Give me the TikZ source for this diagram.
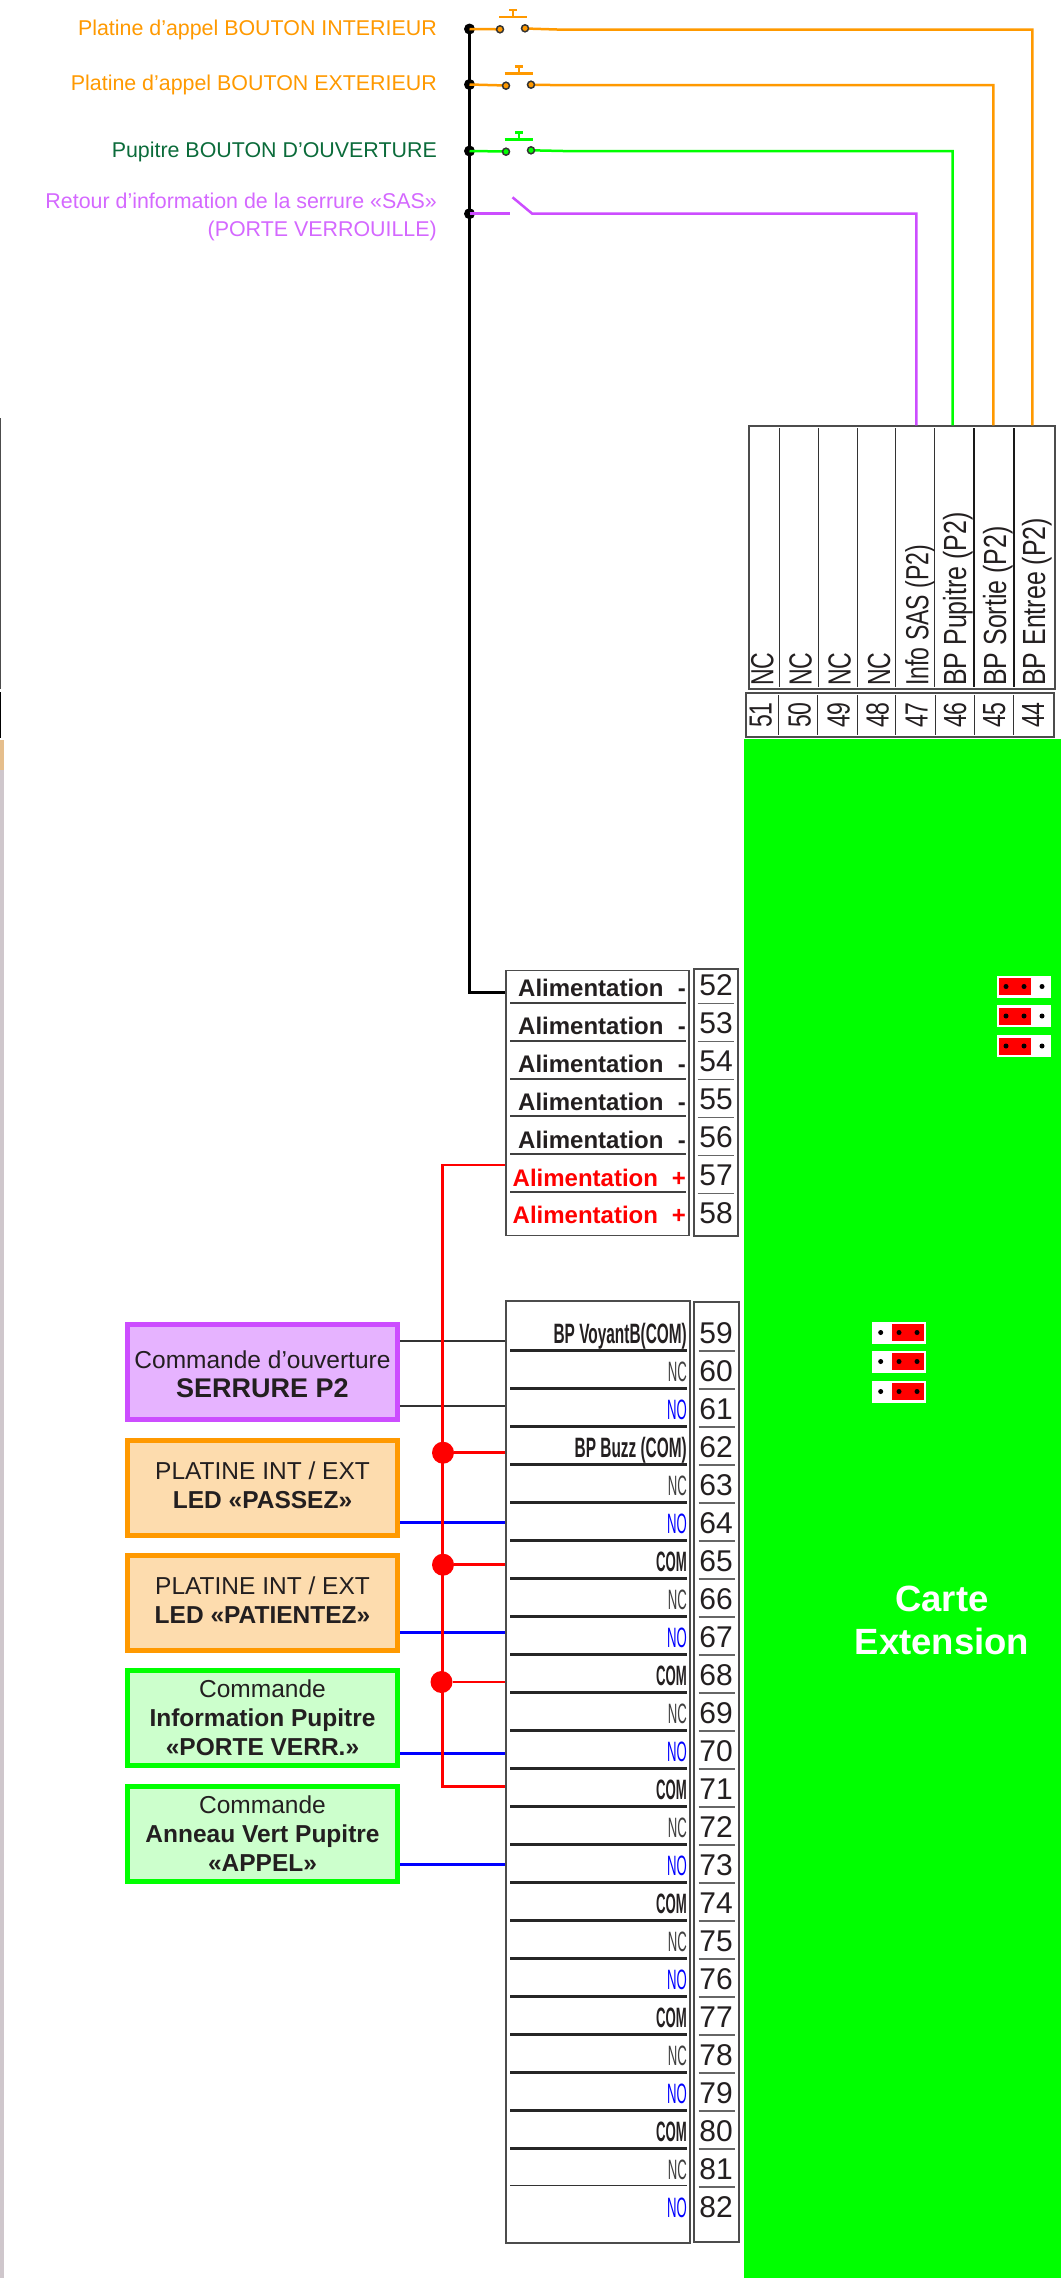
\documentclass[tikz,border=0pt]{standalone}
\usepackage{fontspec}
\setmainfont{Liberation Sans}
\newfontfamily\narrowfont[FakeStretch=0.47]{Liberation Sans}
\newfontfamily\narrowboldfont[FakeStretch=0.55]{Liberation Sans}
\newfontfamily\tallfont[FakeStretch=0.72]{Liberation Sans}
\newfontfamily\bpfont[FakeStretch=0.78]{Liberation Sans}
\usepackage{xcolor}
\definecolor{txtdark}{HTML}{231F20}
\definecolor{ptorange}{HTML}{FF9900}
\definecolor{ptorangefill}{HTML}{FDDCAE}
\definecolor{ptpurple}{HTML}{CC4DFF}
\definecolor{ptpurplefill}{HTML}{E6B3FF}
\definecolor{ptgreen}{HTML}{00FF00}
\definecolor{ptgreenfill}{HTML}{CCFFCC}
\definecolor{ptgreentxt}{HTML}{0B6B3A}
\definecolor{edgegray}{HTML}{CFC7CC}
\definecolor{edgetan}{HTML}{E5BE8C}
\newcommand{\lowgap}{\rule[-5pt]{0pt}{5pt}}
\newcommand{\highgap}{\rule{0pt}{22pt}}
\tikzset{
    cmdbox/.style={draw, line width=5, minimum width=270, minimum height=95, inner sep=0, align=center, text=txtdark, font=\fontsize{24.5}{29}\selectfont},
    tablebox/.style={draw=black!70, line width=1.5, fill=white, inner sep=0},
    toplabel/.style={anchor=east, inner sep=0, align=right, font=\fontsize{21.4}{28}\selectfont},
    wire/.style={line width=2.5},
    rowlabel/.style={anchor=east, inner sep=0},
    jumper/.style={fill=white, draw=none, minimum width=54, minimum height=22, inner sep=0},
    redpart/.style={fill=red, draw=none, minimum width=32, minimum height=17, inner sep=0},
    pin/.style={circle, fill=black, inner sep=0, minimum size=5},
    contact/.style={circle, draw=black!80, line width=1.5, inner sep=0, minimum size=7},
    junction/.style={circle, fill=red, inner sep=0, minimum size=22},
    tiedot/.style={circle, fill=black, inner sep=0, minimum size=11}
}
\begin{document}
\begin{tikzpicture}[x=1pt, y=-1pt]
    \useasboundingbox (0,0) rectangle (1061,2278);

    % bords de la capture
    \fill[edgegray] (0,745) rectangle (4,2278);
    \fill[edgetan] (0,740) rectangle (4,770);
    \draw[black!70, line width=1.5] (0.5,418) -- (0.5,689);
    \draw[black, line width=1.5] (0.5,692) -- (0.5,738);

    % carte
    \node[fill=ptgreen, minimum width=317, minimum height=1539, inner sep=0] (carte) at (902.5,1508.5) {};
    \node[text=white, align=center, font=\bfseries\fontsize{36.5}{43}\selectfont, inner sep=0] (carteTxt) at (942,1620) {Carte\\Extension};

    % cavaliers
    \foreach \y [count=\i] in {986.5,1016,1046} {
        \node[jumper] (jd\i) at (1024,\y) {};
        \node[redpart] (jdr\i) at (1015,\y) {};
        \node[pin] (jda\i) at (1006,\y) {};
        \node[pin] (jdb\i) at (1024,\y) {};
        \node[pin] (jdc\i) at (1042,\y) {};
    }
    \foreach \y [count=\i] in {1332.5,1361.5,1391.5} {
        \node[jumper] (jg\i) at (899,\y) {};
        \node[redpart] (jgr\i) at (908,\y) {};
        \node[pin] (jga\i) at (880.7,\y) {};
        \node[pin] (jgb\i) at (899,\y) {};
        \node[pin] (jgc\i) at (917,\y) {};
    }

    % borniers
    \node[tablebox, minimum width=306, minimum height=263] (tabHaut) at (902,557.5) {};
    \node[tablebox, minimum width=308, minimum height=44] (numHaut) at (900,715) {};
    \node[tablebox, minimum width=183, minimum height=265] (tabAlim) at (597.5,1103) {};
    \node[tablebox, minimum width=44, minimum height=267] (numAlim) at (716,1102.5) {};
    \node[tablebox, minimum width=184, minimum height=942] (tabRel) at (598,1772) {};
    \node[tablebox, minimum width=45, minimum height=940] (numRel) at (716.5,1772) {};

    \foreach \x in {779,818,857,895.5,934.5} \draw[black!80, line width=1] (\x,428) -- (\x,687);
    \foreach \x in {974,1013.5} \draw[black!90, line width=2] (\x,428) -- (\x,687);
    \foreach \x in {778.7,817.7,857,895.7,935,974,1013.3} \draw[black!80, line width=1] (\x,695) -- (\x,735);

    \foreach \x/\lab/\fnt [count=\i] in {773.3/NC/\tallfont,811.7/NC/\tallfont,850.7/NC/\tallfont,890/NC/\tallfont,928.3/Info SAS (P2)/\tallfont,966/BP Pupitre (P2)/\bpfont,1006/BP Sortie (P2)/\bpfont,1045/BP Entree (P2)/\bpfont}
        \node[rotate=90, anchor=base west, inner sep=0, text=txtdark, font=\fnt\fontsize{32}{32}\selectfont] (h\i) at (\x,686) {\lab};
    \foreach \x/\n in {771.5/51,810.5/50,849.5/49,888.5/48,927.5/47,966/46,1005/45,1044/44}
        \node[rotate=90, anchor=base, inner sep=0, text=txtdark, font=\tallfont\fontsize{32}{32}\selectfont] (n\n) at (\x,715) {\n};

    % alimentation
    \foreach \n [count=\i from 0] in {52,...,58} {
        \node[anchor=base, inner sep=0, text=txtdark, font=\fontsize{30}{30}\selectfont] (n\n) at (716,{995.5+38*\i}) {\n};
    }
    \foreach \i in {0,...,5} {
        \draw[black!75, line width=2] (510,{1002.7+37.9*\i}) -- (685.6,{1002.7+37.9*\i});
        \draw[black!60, line width=1.5] (697.5,{1003.7+38*\i}) -- (734,{1003.7+38*\i});
    }
    \foreach \n/\y in {52/996,53/1034,54/1072,55/1110,56/1148} {
        \node[anchor=base west, inner sep=0, text=txtdark, font=\bfseries\fontsize{24}{24}\selectfont] (a\n) at (518,\y) {Alimentation};
        \node[anchor=base east, inner sep=0, text=txtdark, font=\bfseries\fontsize{24}{24}\selectfont] (m\n) at (686,\y) {-};
    }
    \foreach \n/\y in {57/1186,58/1223} {
        \node[anchor=base west, inner sep=0, text=red, font=\bfseries\fontsize{24}{24}\selectfont] (a\n) at (512.5,\y) {Alimentation};
        \node[anchor=base east, inner sep=0, text=red, font=\bfseries\fontsize{24}{24}\selectfont] (m\n) at (686,\y) {+};
    }

    % relais
    \foreach \n/\lab/\col/\wt [count=\i from 0] in {
        59/BP VoyantB(COM)/txtdark/\narrowboldfont\bfseries, 60/NC/black!75/\narrowfont, 61/NO/blue/\narrowfont,
        62/BP Buzz (COM)/txtdark/\narrowboldfont\bfseries, 63/NC/black!75/\narrowfont, 64/NO/blue/\narrowfont,
        65/COM/txtdark/\narrowfont\bfseries, 66/NC/black!75/\narrowfont, 67/NO/blue/\narrowfont,
        68/COM/txtdark/\narrowfont\bfseries, 69/NC/black!75/\narrowfont, 70/NO/blue/\narrowfont,
        71/COM/txtdark/\narrowfont\bfseries, 72/NC/black!75/\narrowfont, 73/NO/blue/\narrowfont,
        74/COM/txtdark/\narrowfont\bfseries, 75/NC/black!75/\narrowfont, 76/NO/blue/\narrowfont,
        77/COM/txtdark/\narrowfont\bfseries, 78/NC/black!75/\narrowfont, 79/NO/blue/\narrowfont,
        80/COM/txtdark/\narrowfont\bfseries, 81/NC/black!75/\narrowfont, 82/NO/blue/\narrowfont} {
        \node[anchor=base, inner sep=0, text=txtdark, font=\fontsize{30}{30}\selectfont] (n\n) at (716,{1343.5+38*\i}) {\n};
        \node[rowlabel, anchor=base east, text=\col, font=\wt\fontsize{28}{28}\selectfont] (r\n) at (687,{1343+38*\i}) {\lab};
    }
    \foreach \i in {0,...,21} {
        \draw[black!85, line width=2.5] (510,{1350.3+38*\i}) -- (687,{1350.3+38*\i});
    }
    \draw[black!80, line width=1] (510,2185) -- (687,2185);
    \foreach \i in {0,...,22} {
        \draw[black!60, line width=1.2] (698.5,{1351+38*\i}) -- (735,{1351+38*\i});
    }

    % boutons
    \node[tiedot] (t1) at (469.5,29) {};
    \node[tiedot] (t2) at (469.5,84.5) {};
    \node[tiedot] (t3) at (469.5,151) {};
    \node[tiedot] (t4) at (469.5,213.7) {};
    \draw[line width=2.5] (t1.center) |- (tabAlim.west |- 0,992.7);

    \draw[ptorange, wire] (t1.center) -- (500,29.3);
    \draw[ptorange, wire] (525,28.5) -- (557,29.5) -- (1032.3,29.5) -- (tabHaut.north -| 1032.3,0);
    \draw[ptorange, wire] (t2.center) -- (506,85.5);
    \draw[ptorange, wire] (531,84.7) -- (563,85.2) -- (993.3,85.2) -- (tabHaut.north -| 993.3,0);
    \draw[ptgreen, wire] (t3.center) -- (506,151.5);
    \draw[ptgreen, wire] (531,150.3) -- (563,151) -- (952.7,151) -- (tabHaut.north -| 952.7,0);
    \draw[ptpurple, wire] (t4.center) -- (510,213.7);
    \draw[ptpurple, wire] (512.5,197.3) -- (532,213.5) -- (916.3,213.5) -- (tabHaut.north -| 916.3,0);

    \foreach \nm/\x/\y/\col in {ba/500/29.3/ptorange, bb/525/28.3/ptorange, bc/506/85.7/ptorange, bd/531/84.7/ptorange, be/506/151.7/ptgreen, bf/531/150.3/ptgreen}
        \node[contact, fill=\col] (\nm) at (\x,\y) {};
    \foreach \xa/\xb/\xc/\ya/\yb/\col in {499/527/513/17/10/ptorange, 504.5/533/519/73.3/66.7/ptorange, 504.5/533/519/139.3/132.3/ptgreen} {
        \draw[\col, line width=2.5] (\xa,\ya) -- (\xb,\ya);
        \draw[\col, line width=2.5] (\xc,\ya) -- (\xc,\yb);
        \draw[\col, line width=2.5] (\xc-4,\yb) -- (\xc+4,\yb);
    }

    \node[toplabel, text=ptorange] (lbInt) at (437,30) {Platine d’appel BOUTON INTERIEUR};
    \node[toplabel, text=ptorange] (lbExt) at (437,85) {Platine d’appel BOUTON EXTERIEUR};
    \node[toplabel, text=ptgreentxt] (lbOuv) at (437,152) {Pupitre BOUTON D’OUVERTURE};
    \node[toplabel, text=ptpurple!85!white] (lbSas) at (437,216.5) {Retour d’information de la serrure «SAS»\\(PORTE VERROUILLE)};

    % commandes
    \node[cmdbox, draw=ptpurple, fill=ptpurplefill] (serrure) at (262.5,1372) {\highgap Commande d’ouverture\\\textbf{\fontsize{27}{29}\selectfont SERRURE P2}};
    \node[cmdbox, draw=ptorange, fill=ptorangefill] (passez) at (262.5,1487.5) {PLATINE INT / EXT\\\textbf{LED «PASSEZ»}\lowgap};
    \node[cmdbox, draw=ptorange, fill=ptorangefill] (patientez) at (262.5,1602.5) {PLATINE INT / EXT\\\textbf{LED «PATIENTEZ»}\lowgap};
    \node[cmdbox, draw=ptgreen, fill=ptgreenfill] (verr) at (262.5,1717.5) {Commande\\\textbf{Information Pupitre}\\\textbf{«PORTE VERR.»}};
    \node[cmdbox, draw=ptgreen, fill=ptgreenfill] (appel) at (262.5,1833.5) {Commande\\\textbf{Anneau Vert Pupitre}\\\textbf{«APPEL»}};

    % fils
    \draw[black!80, wire] (serrure.east |- 0,1341) -- (tabRel.west |- 0,1341);
    \draw[black!80, wire] (serrure.east |- 0,1406) -- (tabRel.west |- 0,1406);
    \draw[blue, wire] (passez.east |- 0,1522.3) -- (tabRel.west |- 0,1522.3);
    \draw[blue, wire] (patientez.east |- 0,1632.3) -- (tabRel.west |- 0,1632.3);
    \draw[blue, wire] (verr.east |- 0,1753.7) -- (tabRel.west |- 0,1753.7);
    \draw[blue, wire] (appel.east |- 0,1864.3) -- (tabRel.west |- 0,1864.3);

    \draw[red, wire] (tabAlim.west |- 0,1165) -- (442.3,1165) -- (442.3,1786.3) -- (tabRel.west |- 0,1786.3);
    \node[junction] (ja) at (443,1452.7) {};
    \node[junction] (jb) at (443,1564.7) {};
    \node[junction] (jc) at (441.5,1682) {};
    \draw[red, wire] (ja) -- (tabRel.west |- ja);
    \draw[red, wire] (jb) -- (tabRel.west |- jb);
    \draw[red, wire] (jc) -- (tabRel.west |- jc);
\end{tikzpicture}
\end{document}
